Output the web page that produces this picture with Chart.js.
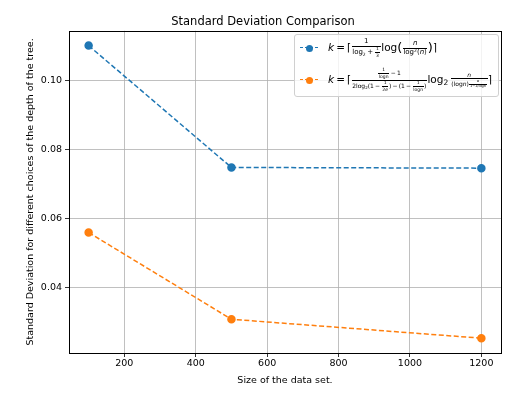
<!DOCTYPE html>
<html>
<head>
<meta charset="utf-8">
<script src="https://cdn.jsdelivr.net/npm/chart.js@4/dist/chart.umd.min.js"></script>
<style>
  html, body { margin:0; padding:0; background:#fff; }
  #wrap { position:relative; width:528px; height:394px; }
  canvas { position:absolute; left:0; top:0; }
  #legend { position:absolute; left:294px; top:34px; width:205px; height:63px;
    border:1px solid #d0d0d0; border-radius:3px; background:rgba(255,255,255,0.8);
    font-family:"DejaVu Sans", sans-serif; color:#000; box-sizing:border-box; }
  .entry { position:absolute; left:0; height:26px; display:flex; align-items:center; white-space:nowrap; }
  .sample { position:relative; width:18px; height:10px; margin-left:5px; margin-right:10px; flex:none; }
  .sample .ln { position:absolute; left:0; top:4px; width:18px; height:0; border-top:1.5px dashed; }
  .sample .dot { position:absolute; left:5.5px; top:1.5px; width:7px; height:7px; border-radius:50%; }
  .f { font-size:10.5px; display:inline-block; line-height:1.2; white-space:nowrap; }
  .frac { display:inline-flex; flex-direction:column; align-items:center; vertical-align:middle; line-height:1.0; margin:0 0.5px; }
  .frac > .n { border-bottom:0.6px solid #000; padding:0 1px 0.5px; align-self:stretch; text-align:center; }
  .frac > .d { padding:0.5px 0.5px 0; }
  .s8 { font-size:7px; }
  .s7 { font-size:6px; }
  .s5 { font-size:4.5px; }
  .s4 { font-size:3.5px; }
  i { font-style:italic; }
  sub { vertical-align:-0.25em; line-height:0; }
  sup { vertical-align:0.45em; line-height:0; }
  .big { font-size:13px; line-height:1; vertical-align:-1px; }
</style>
</head>
<body>
<div id="wrap">
<canvas id="c" width="528" height="394"></canvas>
<div id="legend">
  <div class="entry" style="top:0px;">
    <div class="sample"><div class="ln" style="border-color:#1f77b4"></div><div class="dot" style="background:#1f77b4"></div></div>
    <span class="f"><i>k</i>&#8201;=&#8201;⌈<span class="frac s8"><span class="n">1</span><span class="d">log<sub style="font-size:4.5px">2</sub>&#8201;+&#8201;<span class="frac s5"><span class="n">1</span><span class="d">3</span></span></span></span>log<span class="big">(</span><span class="frac s8"><span class="n"><i>n</i></span><span class="d">log<sup style="font-size:4.5px">2</sup>(<i>n</i>)</span></span><span class="big">)</span>⌉</span>
  </div>
  <div class="entry" style="top:32px;">
    <div class="sample"><div class="ln" style="border-color:#ff7f0e"></div><div class="dot" style="background:#ff7f0e"></div></div>
    <span class="f"><i>k</i>&#8201;=&#8201;⌈<span class="frac s7"><span class="n"><span class="frac s5"><span class="n">1</span><span class="d">logn</span></span>&#8201;−&#8201;1</span><span class="d">2log<sub style="font-size:4px">2</sub>(1&#8201;−&#8201;<span class="frac s5"><span class="n">1</span><span class="d">2<i>e</i></span></span>)&#8201;−&#8201;(1&#8201;−&#8201;<span class="frac s5"><span class="n">1</span><span class="d">logn</span></span>)</span></span>log<sub style="font-size:7.5px">2</sub>&#8201;<span class="frac s7"><span class="n"><i>n</i></span><span class="d">(log<i>n</i>)<span class="frac s4" style="vertical-align:4px"><span class="n"><i>e</i></span><span class="d">1−1/logn</span></span></span></span>⌉</span>
  </div>
</div>
</div>
<script>
const sizes = [100, 500, 1200];
const seriesA = [0.1102, 0.0748, 0.0746];
const seriesB = [0.0559, 0.0307, 0.0252];
const xTicks = [200, 400, 600, 800, 1000, 1200];
const yTicks = [0.04, 0.06, 0.08, 0.10];
const seriesNames = ["k = ⌈1/(log₂+1/3) log(n/log²(n))⌉", "k = ⌈…⌉ log₂ n/(log n)^…"];

const toPts = (xs, ys) => xs.map((x, i) => ({x: x, y: ys[i]}));
const font = {family: "DejaVu Sans", size: 9.5};

const frame = {
  id: 'frame',
  afterDraw(chart) {
    const a = chart.chartArea, ctx = chart.ctx;
    ctx.save();
    ctx.strokeStyle = '#000';
    ctx.lineWidth = 1;
    ctx.strokeRect(Math.round(a.left) + 0.5, Math.round(a.top) + 0.5, Math.round(a.right - a.left), Math.round(a.bottom - a.top));
    ctx.restore();
  }
};

new Chart(document.getElementById('c'), {
  type: 'line',
  data: {
    datasets: [
      {label: seriesNames[0], data: toPts(sizes, seriesA), borderColor: '#1f77b4', backgroundColor: '#1f77b4',
       borderDash: [5, 2.5], borderWidth: 1.5, pointRadius: 3.5, pointHoverRadius: 3.5, fill: false, tension: 0},
      {label: seriesNames[1], data: toPts(sizes, seriesB), borderColor: '#ff7f0e', backgroundColor: '#ff7f0e',
       borderDash: [5, 2.5], borderWidth: 1.5, pointRadius: 3.5, pointHoverRadius: 3.5, fill: false, tension: 0}
    ]
  },
  options: {
    responsive: false,
    animation: false,
    devicePixelRatio: 1,
    layout: {padding: {left: 25, right: 27, top: 0, bottom: 8}},
    plugins: {
      legend: {display: false},
      tooltip: {enabled: false},
      title: {display: true, text: 'Standard Deviation Comparison', color: '#000',
        font: {family: "DejaVu Sans", size: 11.5, weight: 'normal'}, padding: {top: 15, bottom: 2}}
    },
    scales: {
      x: {
        type: 'linear', min: 45, max: 1255,
        afterBuildTicks: s => { s.ticks = xTicks.map(v => ({value: v})); },
        afterFit: s => { s.height = 33; },
        ticks: {color: '#000', font: font, padding: 1, maxRotation: 0, callback: v => String(v)},
        grid: {color: '#b0b0b0', lineWidth: 0.8, tickColor: '#000', tickLength: 4, drawTicks: true},
        border: {display: false},
        title: {display: true, text: 'Size of the data set.', color: '#000', font: font, padding: {top: 0, bottom: 0}}
      },
      y: {
        type: 'linear', min: 0.0209, max: 0.1145,
        afterBuildTicks: s => { s.ticks = yTicks.map(v => ({value: v})); },
        afterFit: s => { s.width = 44; },
        ticks: {color: '#000', font: font, padding: 3, callback: v => v.toFixed(2)},
        grid: {color: '#b0b0b0', lineWidth: 0.8, tickColor: '#000', tickLength: 4, drawTicks: true},
        border: {display: false},
        title: {display: true, text: 'Standard Deviation for different choices of the depth of the tree.', color: '#000', font: font, padding: {top: 0, bottom: 0}}
      }
    }
  },
  plugins: [frame]
});
</script>
</body>
</html>
